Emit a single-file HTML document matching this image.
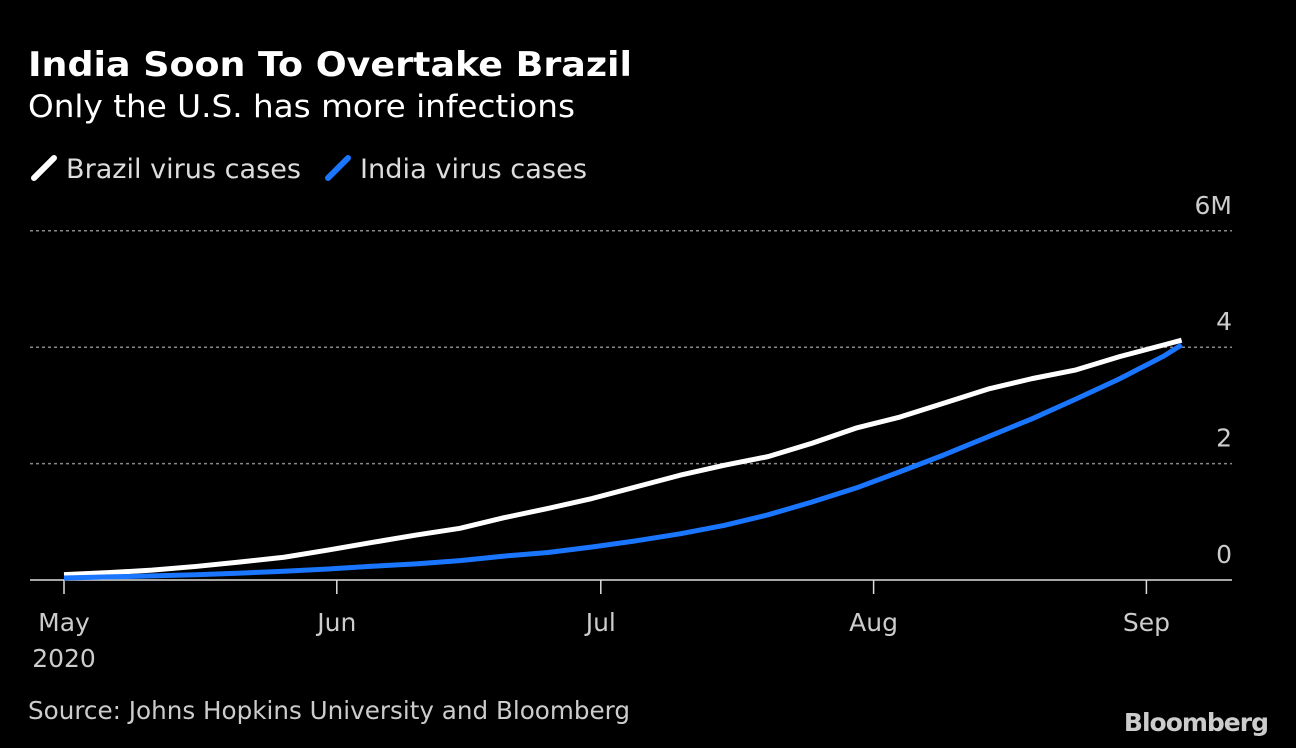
<!DOCTYPE html>
<html><head><meta charset="utf-8"><style>
body{margin:0;background:#000;width:1296px;height:748px;overflow:hidden;font-family:"DejaVu Sans","Liberation Sans",sans-serif;color:#fff}
svg{position:absolute;left:0;top:0;font-family:"DejaVu Sans","Liberation Sans",sans-serif}
</style></head><body>
<svg width="1296" height="748">
<text x="28" y="76" font-size="34" font-weight="bold" fill="#fff" textLength="604" lengthAdjust="spacingAndGlyphs">India Soon To Overtake Brazil</text>
<text x="28" y="117" font-size="31" fill="#fff" textLength="547" lengthAdjust="spacingAndGlyphs">Only the U.S. has more infections</text>
<g>
<line x1="34" y1="178" x2="54" y2="158" stroke="#fff" stroke-width="6" stroke-linecap="round"/>
<text x="66" y="178" font-size="27" fill="#ddd" textLength="235" lengthAdjust="spacingAndGlyphs">Brazil virus cases</text></g>
<g>
<line x1="328" y1="178" x2="348" y2="158" stroke="#1a75ff" stroke-width="6" stroke-linecap="round"/>
<text x="360" y="178" font-size="27" fill="#ddd" textLength="227" lengthAdjust="spacingAndGlyphs">India virus cases</text></g>
<g id="grid"></g><g id="xaxis"></g><g id="lines"></g>
<text x="28" y="719" font-size="25" fill="#ccc" textLength="602" lengthAdjust="spacingAndGlyphs">Source: Johns Hopkins University and Bloomberg</text>
<text x="1268" y="731" font-size="25" font-weight="bold" fill="#ccc" text-anchor="end" letter-spacing="-1">Bloomberg</text>
</svg>
<script>
const days=[0,5,10,15,20,25,30,35,40,45,50,55,60,65,70,75,80,85,90,95,100,105,110,115,120,125,127];
const brazil=[0.092,0.126,0.169,0.233,0.31,0.391,0.514,0.645,0.772,0.888,1.07,1.23,1.40,1.60,1.80,1.97,2.12,2.35,2.61,2.80,3.04,3.28,3.46,3.61,3.84,4.04,4.12];
const india=[0.035,0.053,0.071,0.091,0.118,0.151,0.19,0.236,0.277,0.333,0.411,0.473,0.567,0.673,0.794,0.937,1.12,1.34,1.58,1.86,2.15,2.46,2.77,3.11,3.46,3.85,4.04];
const yTicks=[0,2,4,6];
const yTickLabels=["0","2","4","6M"];
const xTickDays=[0,31,61,92,123];
const xTickLabels=["May","Jun","Jul","Aug","Sep"];
const NS="http://www.w3.org/2000/svg";
const X=d=>64+d*8.8, Y=v=>580-v*58.2;
function mk(t,a,p){const e=document.createElementNS(NS,t);for(const k in a)e.setAttribute(k,a[k]);document.getElementById(p).appendChild(e);return e;}
yTicks.forEach((v,i)=>{
 if(v>0){const l=mk('line',{x1:30,x2:1232,y1:Y(v),y2:Y(v),stroke:'#888','stroke-width':1.5,'stroke-dasharray':'3,3'},'grid');
 
 }
 const t=mk('text',{x:1232,y:Y(v)-17,'font-size':25,fill:'#ccc','text-anchor':'end'},'grid');t.textContent=yTickLabels[i];
 
 
});
const ax=mk('line',{x1:30,x2:1232,y1:580,y2:580,stroke:'#ddd','stroke-width':1.5},'xaxis');


xTickDays.forEach((d,i)=>{
 const tk=mk('line',{x1:X(d),x2:X(d),y1:580,y2:594,stroke:'#ddd','stroke-width':1.5},'xaxis');
 
 
 const t=mk('text',{x:X(d),y:631,'font-size':25,fill:'#ccc','text-anchor':'middle'},'xaxis');t.textContent=xTickLabels[i];
 
 
});
const yr=mk('text',{x:X(0),y:667,'font-size':25,fill:'#ccc','text-anchor':'middle'},'xaxis');yr.textContent='2020';


[[brazil,'#fff','brazil-line'],[india,'#1a75ff','india-line']].forEach(([s,c,n])=>{
 const p=mk('polyline',{points:days.map((d,i)=>X(d)+','+Y(s[i])).join(' '),fill:'none',stroke:c,'stroke-width':5,'stroke-linejoin':'round'},'lines');
 
 
});
</script>
</body></html>
